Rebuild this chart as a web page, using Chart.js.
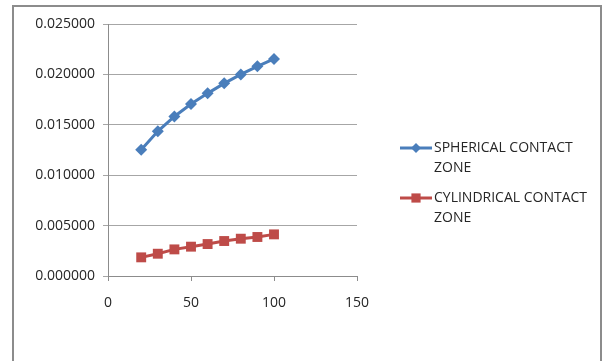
<!DOCTYPE html>
<html>
<head>
<meta charset="utf-8">
<script src="https://cdn.jsdelivr.net/npm/chart.js@4/dist/chart.umd.min.js"></script>
<style>
html,body{margin:0;padding:0;background:#fff;}
#wrap{position:relative;width:609px;height:361px;}
#frame{position:absolute;left:12px;top:5px;width:590px;height:370px;border:2px solid #8c8c8c;box-sizing:border-box;}
canvas{position:absolute;left:0;top:0;}
</style>
</head>
<body>
<div id="wrap"><div id="frame"></div><canvas id="c" width="609" height="361"></canvas></div>
<script>
const xValues = [20, 30, 40, 50, 60, 70, 80, 90, 100];
const spherical = [0.01253, 0.01435, 0.01583, 0.01706, 0.01812, 0.01911, 0.02000, 0.02080, 0.02153];
const cylindrical = [0.00185, 0.00221, 0.00264, 0.00291, 0.00317, 0.00347, 0.00370, 0.00387, 0.00413];
const seriesNames = [["SPHERICAL CONTACT", "ZONE"], ["CYLINDRICAL CONTACT", "ZONE"]];
const xTicks = [0, 50, 100, 150];
const yTicks = [0, 0.005, 0.01, 0.015, 0.02, 0.025];

const FONT = "'Open Sans', sans-serif";
const BLUE = '#4A7EBB', RED = '#BE4B48';

const legendPlugin = {
  id: 'customLegend',
  afterDraw(chart) {
    const ctx = chart.ctx;
    const items = [
      {y: 148, color: BLUE, style: 'rectRot', r: 5},
      {y: 198, color: RED, style: 'rect', r: 6.5}
    ];
    ctx.save();
    items.forEach((it, i) => {
      ctx.strokeStyle = it.color; ctx.lineWidth = 3;
      ctx.beginPath(); ctx.moveTo(400, it.y); ctx.lineTo(432, it.y); ctx.stroke();
      ctx.fillStyle = it.color;
      Chart.helpers.drawPoint(ctx, {pointStyle: it.style, radius: it.r, borderWidth: 0}, 416, it.y);
      ctx.fillStyle = '#262626';
      ctx.font = '14px ' + FONT;
      ctx.textBaseline = 'middle';
      seriesNames[i].forEach((t, j) => ctx.fillText(t, 434, it.y + j * 20));
    });
    ctx.restore();
  }
};

new Chart(document.getElementById('c'), {
  type: 'line',
  data: {
    datasets: [
      {label: seriesNames[0].join(' '), data: xValues.map((x, i) => ({x, y: spherical[i]})),
       borderColor: BLUE, backgroundColor: BLUE, borderWidth: 3, pointStyle: 'rectRot',
       pointRadius: 6, pointBorderWidth: 0, pointHoverRadius: 6},
      {label: seriesNames[1].join(' '), data: xValues.map((x, i) => ({x, y: cylindrical[i]})),
       borderColor: RED, backgroundColor: RED, borderWidth: 3, pointStyle: 'rect',
       pointRadius: 7, pointBorderWidth: 0, pointHoverRadius: 7}
    ]
  },
  options: {
    responsive: false, animation: false,
    layout: {padding: {left: 0, top: 24, right: 252, bottom: 45}},
    plugins: {legend: {display: false}, tooltip: {enabled: false}},
    scales: {
      x: {
        type: 'linear', min: 0, max: 150,
        afterBuildTicks: s => { s.ticks = xTicks.map(v => ({value: v})); },
        afterFit: s => { s.height = 40; },
        grid: {drawOnChartArea: false, color: '#8c8c8c', tickLength: 5},
        border: {color: '#8c8c8c', width: 1},
        ticks: {color: '#262626', font: {family: FONT, size: 14}, padding: 14, maxRotation: 0}
      },
      y: {
        type: 'linear', min: 0, max: 0.025,
        afterBuildTicks: s => { s.ticks = yTicks.map(v => ({value: v})); },
        afterFit: s => { s.width = 108; },
        grid: {color: '#a6a6a6', tickLength: 5},
        border: {color: '#8c8c8c', width: 1},
        ticks: {color: '#262626', font: {family: FONT, size: 14}, padding: 8,
                callback: v => Number(v).toFixed(6)}
      }
    }
  },
  plugins: [legendPlugin]
});
</script>
</body>
</html>
